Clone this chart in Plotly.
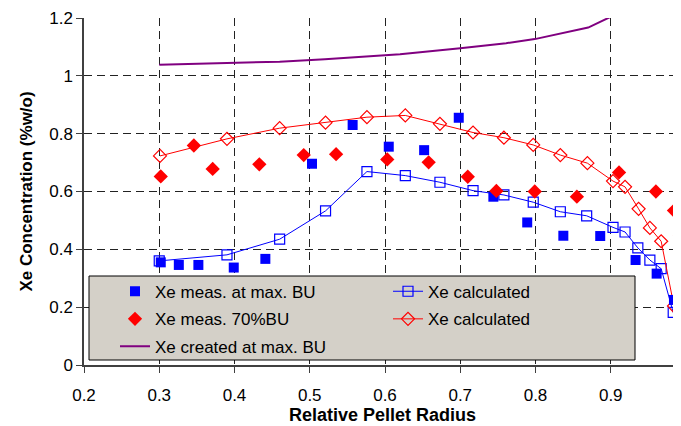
import plotly.graph_objects as go

# Measured Xe at max burn-up (filled blue squares)
meas_max_x = [0.302, 0.326, 0.352, 0.399, 0.441, 0.503, 0.557, 0.605, 0.652, 0.698,
              0.744, 0.789, 0.837, 0.886, 0.933, 0.961, 0.984, 0.990]
meas_max_y = [0.355, 0.346, 0.346, 0.337, 0.367, 0.696, 0.830, 0.755, 0.743, 0.855,
              0.582, 0.493, 0.447, 0.446, 0.363, 0.316, 0.225, 0.195]

# Measured Xe at 70% burn-up (filled red diamonds)
meas_70_x = [0.302, 0.346, 0.371, 0.433, 0.492, 0.535, 0.603, 0.658, 0.710, 0.748,
             0.799, 0.855, 0.911, 0.960, 0.984, 0.992]
meas_70_y = [0.652, 0.759, 0.678, 0.694, 0.726, 0.729, 0.711, 0.701, 0.651, 0.602,
             0.600, 0.582, 0.666, 0.600, 0.534, 0.448]

# Calculated (blue open squares)
calc_blue_x = [0.300, 0.390, 0.460, 0.521, 0.576, 0.627, 0.673, 0.717, 0.758, 0.797,
               0.833, 0.868, 0.903, 0.919, 0.936, 0.952, 0.967, 0.983, 0.998]
calc_blue_y = [0.360, 0.381, 0.435, 0.533, 0.669, 0.655, 0.632, 0.603, 0.588, 0.563,
               0.530, 0.516, 0.476, 0.460, 0.405, 0.363, 0.333, 0.182, 0.100]

# Calculated (red open diamonds)
calc_red_x = [0.301, 0.390, 0.460, 0.521, 0.576, 0.627, 0.673, 0.717, 0.758, 0.797,
              0.833, 0.869, 0.903, 0.919, 0.937, 0.952, 0.967, 0.984]
calc_red_y = [0.723, 0.782, 0.819, 0.838, 0.857, 0.863, 0.834, 0.804, 0.786, 0.761,
              0.726, 0.698, 0.636, 0.616, 0.540, 0.474, 0.428, 0.204]

# Xe created at max burn-up (purple line)
created_x = [0.300, 0.390, 0.460, 0.520, 0.600, 0.620, 0.700, 0.761, 0.799, 0.870, 0.912]
created_y = [1.038, 1.044, 1.049, 1.057, 1.070, 1.075, 1.095, 1.113, 1.127, 1.167, 1.219]

x_ticks = [0.2, 0.3, 0.4, 0.5, 0.6, 0.7, 0.8, 0.9]
y_ticks = [0, 0.2, 0.4, 0.6, 0.8, 1.0, 1.2]
y_tick_text = ["0", "0.2", "0.4", "0.6", "0.8", "1", "1.2"]

FONT = "Arial, 'Liberation Sans', sans-serif"

fig = go.Figure()

fig.add_trace(go.Scatter(
    x=created_x, y=created_y, mode="lines", name="Xe created at max. BU",
    line=dict(color="#800080", width=2), legend="legend5"))

fig.add_trace(go.Scatter(
    x=calc_blue_x, y=calc_blue_y, mode="lines+markers", name="Xe calculated",
    line=dict(color="#0000ff", width=1),
    marker=dict(symbol="square-open", size=10, color="#0000ff", line=dict(width=1.2)),
    legend="legend2"))

fig.add_trace(go.Scatter(
    x=calc_red_x, y=calc_red_y, mode="lines+markers", name="Xe calculated",
    line=dict(color="#ff0000", width=1),
    marker=dict(symbol="diamond-open", size=10, color="#ff0000", line=dict(width=1.2)),
    legend="legend4"))

fig.add_trace(go.Scatter(
    x=meas_max_x, y=meas_max_y, mode="markers", name="Xe meas. at max. BU",
    marker=dict(symbol="square", size=10, color="#0000ff"),
    legend="legend"))

fig.add_trace(go.Scatter(
    x=meas_70_x, y=meas_70_y, mode="markers", name="Xe meas. 70%BU",
    marker=dict(symbol="diamond", size=11, color="#ff0000"),
    legend="legend3"))

# The page body has an 8px margin; the figure is sized so the plot area
# lands at x 84..681, y 18..365 of the 681x426 window.
OFF = 8
W, H = 681 - OFF, 426 - OFF
L, R, T, B = 84 - OFF, 0, 18 - OFF, 61
PL, PR, PT, PB = 84, 681, 18, 365
PW, PH = PR - PL, PB - PT


def px_x(p):
    return (p - PL) / PW


def px_y(p):
    return (PB - p) / PH


leg_common = dict(bgcolor="rgba(0,0,0,0)", borderwidth=0,
                  font=dict(family=FONT, size=17, color="black"),
                  xanchor="left", yanchor="middle")

col1_x = px_x(115)
col2_x = px_x(388)
rows = [px_y(291.7), px_y(319.3), px_y(346.7)]

fig.update_layout(
    width=W, height=H,
    margin=dict(l=L, r=R, t=T, b=B, autoexpand=False),
    paper_bgcolor="white", plot_bgcolor="white",
    font=dict(family=FONT, size=17, color="black"),
    showlegend=True,
    legend=dict(x=col1_x, y=rows[0], **leg_common),
    legend2=dict(x=col2_x, y=rows[0], **leg_common),
    legend3=dict(x=col1_x, y=rows[1], **leg_common),
    legend4=dict(x=col2_x, y=rows[1], **leg_common),
    legend5=dict(x=col1_x, y=rows[2], **leg_common),
    shapes=[dict(type="rect", xref="paper", yref="paper",
                 x0=px_x(89), x1=px_x(635), y0=px_y(360), y1=px_y(276),
                 fillcolor="#d4d0c8", line=dict(color="black", width=1),
                 layer="above")],
)

fig.update_xaxes(
    range=[0.2, 0.2 + PW / 752.5],
    automargin=False,
    tickmode="array", tickvals=x_ticks, ticktext=[f"{v:.1f}" for v in x_ticks],
    showline=True, linecolor="#404040", linewidth=1.5,
    ticks="outside", ticklen=6, tickcolor="#404040", tickwidth=1,
    ticklabelstandoff=8,
    showgrid=True, gridcolor="#222222", gridwidth=1, griddash="8px,5px",
    zeroline=False,
    tickfont=dict(family=FONT, size=17),
    title=dict(text="<b>Relative Pellet Radius</b>", font=dict(family=FONT, size=18), standoff=2),
)

fig.update_yaxes(
    range=[0, 1.2],
    automargin=False,
    tickmode="array", tickvals=y_ticks, ticktext=y_tick_text,
    showline=True, linecolor="#404040", linewidth=1.5,
    ticks="outside", ticklen=6, tickcolor="#404040", tickwidth=1,
    showgrid=True, gridcolor="#222222", gridwidth=1, griddash="8px,5px",
    zeroline=False,
    tickfont=dict(family=FONT, size=17),
    title=dict(text="<b>Xe Concentration (%w/o)</b>", font=dict(family=FONT, size=17), standoff=12),
)

fig.write_html("out.html")
